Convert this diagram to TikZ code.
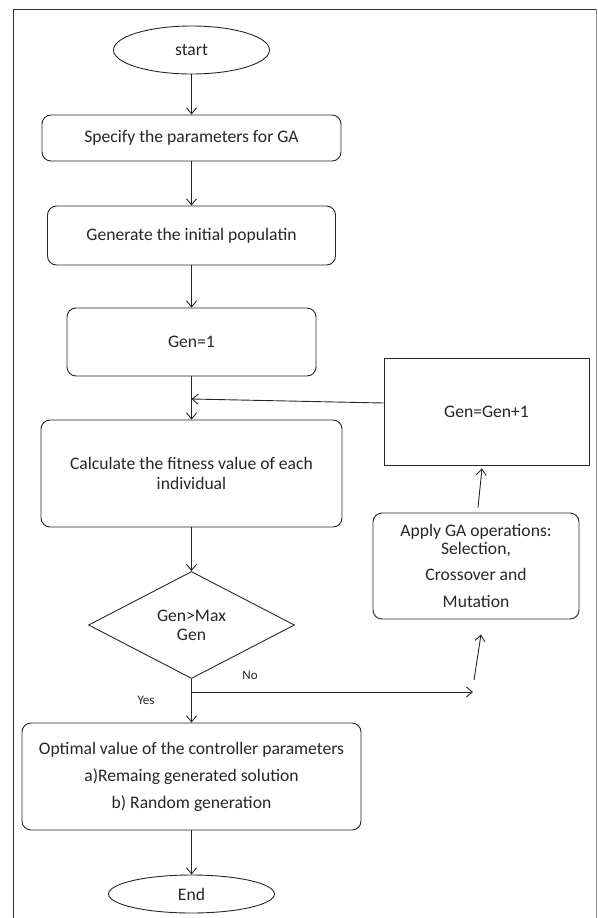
\documentclass[tikz,border=0pt]{standalone}
\usepackage{fontspec}
\setmainfont{Carlito}
\usetikzlibrary{arrows.meta,shapes.geometric,calc}
\begin{document}
\begin{tikzpicture}[x=1pt,y=-1pt,
  every node/.style={font=\fontsize{17.6}{21}\selectfont, text=black!85},
  ln/.style={line width=0.9pt, draw=black!85},
  arr/.style={ln, -{Straight Barb[length=6pt,width=10pt]}},
  rbox/.style={ln, rectangle, rounded corners=9pt, align=center, inner sep=0pt},
  term/.style={ln, ellipse, inner sep=0pt},
  lbl/.style={font=\fontsize{13}{15}\selectfont}
]
\useasboundingbox (0,0) rectangle (597,918);
% frame
\draw[line width=1pt, black!80] (13,930) -- (13,9) -- (596,9);
\draw[line width=1pt, black!45] (596,9) -- (596,930);

\node[term, minimum width=156pt, minimum height=48pt] (start) at (191.5,50) {start};
\node[rbox, minimum width=299pt, minimum height=46pt] (spec) at (191.5,138) {Specify the parameters for GA};
\node[rbox, minimum width=288pt, minimum height=59pt] (gen) at (191.5,235.5) {Generate the initial populatin};
\node[rbox, minimum width=249pt, minimum height=68pt] (g1) at (191.5,342) {Gen=1};
\node[rbox, minimum width=301pt, minimum height=107pt] (calc) at (191.5,473.5) {Calculate the fitness value of each\\[-1pt] individual};
\node[ln, diamond, aspect=1.93, inner sep=0pt, minimum width=206pt, minimum height=107pt, align=center] (dec) at (191.5,625) {Gen>Max\\[-2pt] Gen};
\node[rbox, minimum width=339pt, minimum height=107pt] (opt) at (191.5,776.5) {Optimal value of the controller parameters\\[6pt] a)Remaing generated solution\\[6pt] b) Random generation};
\node[term, minimum width=166pt, minimum height=38pt] (endn) at (191.5,894) {End};
\node[ln, rectangle, minimum width=205pt, minimum height=107pt, inner sep=0pt] (inc) at (486.5,411.5) {Gen=Gen+1};
\node[rbox, minimum width=206pt, minimum height=106pt] (apply) at (476,566) {Apply GA operations:\\[-3pt] Selection,\\[5pt] Crossover and\\[6pt] Mutation};

\draw[arr] (start) -- (spec);
\draw[arr] (spec) -- (gen);
\draw[arr] (gen) -- (g1);
\draw[arr] (g1) -- (calc);
\draw[arr] (calc) -- (dec);
\draw[arr] (dec) -- (opt);
\draw[arr] (opt) -- (endn);

\coordinate (fbs) at ($(inc.west)+(0,-8.5)$);
\coordinate (fbe) at (191.5,399);
\draw[arr] (fbs) -- (fbe);

\coordinate (nob) at (191.5,692);
\coordinate (noe) at (473,692);
\draw[arr] (nob) -- (noe);
\node[lbl] (no) at (250,675) {No};
\node[lbl] (yes) at (146,700) {Yes};

\coordinate (s1) at (474,680);
\coordinate (s2) at ($(apply.south)+(5,15)$);
\draw[arr] (s1) -- (s2);

\coordinate (u1) at ($(apply.north)+(2,-5)$);
\coordinate (u2) at ($(inc.south)+(-4.5,3)$);
\draw[arr] (u1) -- (u2);
\end{tikzpicture}
\end{document}
